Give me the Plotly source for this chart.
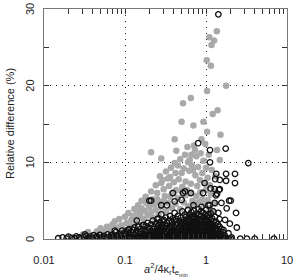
import plotly.graph_objects as go

# ---- data ----
gray_x = [1.36, 1.10, 1.26, 1.17, 1.02, 1.15, 1.77, 1.03, 0.65, 0.52, 1.39, 1.21, 0.50, 0.70, 0.93,
          1.51, 0.41, 0.88, 0.21, 0.43, 0.59, 1.37, 0.73, 0.28, 0.66, 1.48, 0.41,
          0.16, 0.18, 0.19, 0.21, 0.22, 0.24, 0.25, 0.26, 0.27, 0.28, 0.29, 0.30, 0.31, 0.32, 0.34,
          0.35, 0.36, 0.37, 0.38, 0.40, 0.42, 0.43, 0.45, 0.46, 0.48, 0.50, 0.51, 0.53, 0.55, 0.56,
          0.58, 0.60, 0.62, 0.63, 0.65, 0.67, 0.69, 0.71, 0.74, 0.76, 0.78, 0.80, 0.84, 0.86, 0.90,
          0.93, 0.96, 0.98, 1.00, 1.03, 1.05, 1.08, 1.12, 1.18, 1.25, 1.30,
          0.045, 0.05, 0.055, 0.06, 0.065, 0.07, 0.075, 0.08, 0.085, 0.09, 0.095, 0.10, 0.105, 0.11,
          0.115, 0.12, 0.125, 0.13, 0.135, 0.14, 0.145, 0.15, 0.155, 0.16, 0.17, 0.175, 0.18, 0.19,
          0.20, 0.21, 0.22, 0.23, 0.24, 0.25, 0.26, 0.28, 0.30, 0.32, 0.34, 0.36, 0.38, 0.40, 0.42,
          0.45, 0.48, 0.50, 0.53, 0.56, 0.60, 0.64, 0.68, 0.72, 0.76, 0.80, 0.85, 0.90, 0.95, 1.00,
          1.05, 1.10, 1.15, 1.20, 1.30, 0.03, 0.035, 0.04]
gray_y = [27.1, 26.3, 25.9, 25.3, 23.3, 22.6, 20.0, 19.3, 18.4, 17.7, 16.8, 16.3, 15.3, 14.8, 15.3,
          13.6, 13.0, 13.0, 11.3, 11.5, 12.0, 11.6, 11.6, 10.5, 11.0, 10.3, 9.9,
          5.0, 5.5, 4.6, 6.2, 5.2, 7.0, 6.0, 4.8, 8.2, 7.3, 7.7, 6.5, 5.6, 8.8, 7.9,
          6.9, 8.1, 9.3, 5.9, 7.4, 8.6, 6.4, 9.6, 7.8, 10.4, 8.6, 6.8, 9.2, 11.0, 7.5,
          6.4, 10.0, 8.9, 10.3, 7.2, 9.6, 9.0, 12.2, 8.3, 10.8, 6.9, 9.4, 7.7, 11.2, 8.6,
          10.2, 7.3, 12.4, 9.3, 14.0, 8.0, 11.0, 7.0, 9.0, 6.2, 8.2,
          1.0, 1.4, 0.9, 1.6, 1.2, 1.9, 2.3, 1.5, 2.6, 1.8, 1.3, 2.9, 2.1, 3.4,
          1.7, 2.5, 3.0, 3.9, 2.2, 3.6, 4.4, 2.9, 3.3, 4.0, 2.6, 3.7, 4.8, 3.1,
          4.2, 3.5, 2.8, 4.5, 3.8, 5.2, 3.2, 4.1, 5.0, 3.6, 4.7, 5.5, 4.0, 6.0, 4.6,
          5.3, 3.9, 6.2, 4.8, 5.7, 4.3, 6.0, 5.0, 4.4, 5.6, 4.8, 6.1, 5.2, 4.5, 6.4,
          5.1, 4.0, 5.8, 3.5, 4.6, 0.6, 0.9, 0.5]

# black open circles: scattered points
black_x = [1.42, 0.80, 1.12, 1.75, 1.12, 3.33, 1.34, 1.77, 2.28, 1.30, 1.48, 1.77, 2.28, 0.96,
           1.14, 1.45, 1.33, 1.93, 0.52, 0.65, 0.41, 0.50, 0.33, 0.70, 0.88, 1.11, 0.92, 1.28,
           1.48, 1.37, 2.02, 1.55, 1.28, 1.07, 1.80, 2.35, 1.23, 1.42, 1.72, 1.97, 2.40, 1.64,
           1.89, 2.07, 1.72, 1.93, 2.04, 2.65, 3.20, 4.00, 6.90, 0.55, 0.39, 0.20, 0.21, 0.28,
           0.14, 0.127, 0.17, 0.26, 0.30, 0.109, 0.075, 0.049, 0.032,
           0.015, 0.017, 0.019, 0.020, 0.022, 0.024, 0.025, 0.027, 0.029, 0.031, 0.033, 0.035,
           0.037, 0.039, 0.041, 0.043, 0.045, 0.047, 0.049, 0.052, 0.055, 0.058, 0.061, 0.064, 0.067,
           0.068, 0.071, 0.074, 0.077, 0.080, 0.083, 0.086, 0.089, 0.092, 0.095, 0.098, 0.101,
           0.104, 0.107, 0.110, 0.113, 0.116, 0.119, 0.122, 0.125, 0.128, 0.131, 0.134, 0.137,
           0.140, 0.143, 0.146, 0.149, 0.152, 0.155, 0.158, 0.161, 0.164, 0.167, 0.07, 0.085,
           0.10, 0.115, 0.13, 0.145, 0.16]
black_y = [29.3, 12.5, 11.6, 11.8, 10.0, 9.9, 8.5, 8.5, 8.5, 7.8, 7.7, 7.6, 7.3, 7.3,
           6.6, 6.4, 5.7, 5.0, 6.0, 6.0, 4.9, 5.1, 4.4, 4.4, 4.2, 4.4, 6.0, 6.5,
           6.5, 5.9, 5.0, 4.7, 4.7, 4.4, 4.0, 3.4, 3.6, 3.4, 2.5, 2.0, 1.5, 1.2,
           0.75, 0.2, 0.05, 0.05, 0.05, 0.05, 0.05, 0.05, 0.05, 6.2, 6.0, 5.0, 5.0, 4.4,
           2.4, 1.2, 1.8, 2.7, 2.3, 1.2, 1.1, 0.5, 0.6,
           0.1, 0.2, 0.05, 0.3, 0.15, 0.1, 0.35, 0.2, 0.1, 0.25, 0.4, 0.15,
           0.3, 0.05, 0.5, 0.2, 0.35, 0.1, 0.55, 0.25, 0.4, 0.15, 0.6, 0.3, 0.45,
           0.2, 0.6, 0.1, 0.9, 0.35, 0.05, 0.7, 0.45, 1.1, 0.15, 0.8, 0.4,
           1.0, 0.1, 0.65, 1.3, 0.3, 0.9, 0.05, 1.2, 0.5, 1.5, 0.2, 0.85,
           1.1, 0.4, 1.6, 0.7, 0.15, 1.3, 0.95, 0.3, 1.8, 0.55, 0.0, 0.25,
           0.0, 0.1, 0.0, 0.2, 0.05]

# black open circles: dense core, listed as (x, [y values at that x])
black_core = [
    (0.17, [0.1, 0.6, 1.2]), (0.18, [0.3, 0.9, 1.7]), (0.19, [0.0, 0.5, 1.1, 2.1]),
    (0.20, [0.2, 0.8, 1.4]), (0.21, [0.4, 1.0, 1.9]), (0.22, [0.1, 0.6, 1.3, 2.4]),
    (0.23, [0.3, 0.9, 1.6]), (0.24, [0.0, 0.5, 1.1, 2.0]), (0.25, [0.2, 0.8, 1.4, 2.6]),
    (0.26, [0.4, 1.0, 1.8]), (0.27, [0.1, 0.6, 1.2, 2.2]), (0.28, [0.3, 0.9, 1.5, 3.2]),
    (0.29, [0.0, 0.5, 1.1, 1.9]), (0.30, [0.2, 0.8, 1.4, 2.5]), (0.32, [0.1, 0.6, 1.0, 1.7, 2.8]),
    (0.33, [0.3, 0.9, 1.3, 2.1]), (0.35, [0.0, 0.5, 1.1, 1.6, 2.4]), (0.36, [0.2, 0.8, 1.4, 3.0]),
    (0.38, [0.4, 1.0, 1.7, 2.2]), (0.39, [0.1, 0.6, 1.2, 1.9, 2.7]), (0.41, [0.3, 0.9, 1.5, 2.4, 3.4]),
    (0.43, [0.0, 0.5, 1.1, 1.8, 2.6]), (0.45, [0.2, 0.8, 1.3, 2.0, 3.0]), (0.47, [0.4, 1.0, 1.6, 2.3]),
    (0.49, [0.1, 0.6, 1.2, 1.9, 2.8]), (0.51, [0.3, 0.9, 1.5, 2.2, 3.6]), (0.53, [0.0, 0.5, 1.1, 1.7, 2.5]),
    (0.55, [0.2, 0.8, 1.4, 2.0, 3.2]), (0.57, [0.4, 1.0, 1.6, 2.4, 2.9]), (0.60, [0.1, 0.6, 1.2, 1.8, 2.6, 3.8]),
    (0.62, [0.3, 0.9, 1.5, 2.2, 3.1]), (0.64, [0.0, 0.5, 1.1, 1.7, 2.5]), (0.66, [0.2, 0.8, 1.4, 2.0, 2.8, 3.5]),
    (0.69, [0.4, 1.0, 1.6, 2.3, 3.0]), (0.71, [0.1, 0.6, 1.2, 1.9, 2.6, 3.7]), (0.73, [0.3, 0.9, 1.5, 2.1, 2.9]),
    (0.76, [0.0, 0.5, 1.1, 1.8, 2.4, 3.3]), (0.78, [0.2, 0.8, 1.4, 2.0, 2.7]), (0.81, [0.4, 1.0, 1.6, 2.3, 3.1, 3.9]),
    (0.84, [0.1, 0.6, 1.2, 1.9, 2.6]), (0.87, [0.3, 0.9, 1.5, 2.2, 3.0, 3.6]), (0.90, [0.0, 0.5, 1.1, 1.7, 2.4]),
    (0.93, [0.2, 0.8, 1.4, 2.0, 2.8, 3.4]), (0.96, [0.4, 1.0, 1.6, 2.3, 3.1]), (1.00, [0.1, 0.6, 1.2, 1.9, 2.6, 3.8]),
    (1.03, [0.3, 0.9, 1.5, 2.2, 3.0]), (1.07, [0.0, 0.5, 1.1, 1.7, 2.4, 3.2]), (1.11, [0.2, 0.8, 1.4, 2.0, 2.8]),
    (1.15, [0.4, 1.0, 1.6, 2.5, 3.3]), (1.19, [0.1, 0.6, 1.2, 1.9, 2.7]), (1.24, [0.3, 0.9, 1.5, 2.3]),
    (1.29, [0.0, 0.5, 1.1, 1.8, 2.9]), (1.34, [0.2, 0.8, 1.4, 2.2]), (1.40, [0.1, 0.6, 1.2, 1.9]),
    (1.47, [0.3, 0.9, 1.6, 2.6]), (1.55, [0.0, 0.6, 1.3]), (1.62, [0.2, 0.9]), (1.70, [0.1, 0.5]),
    (0.175, [0.35]), (0.205, [0.15]), (0.235, [0.05]), (0.265, [0.3]), (0.31, [0.15]),
    (0.34, [0.4]), (0.37, [0.05]), (0.42, [0.45]), (0.46, [0.1]), (0.50, [0.35]), (0.56, [0.05]),
    (0.58, [0.5]), (0.67, [0.1]), (0.74, [0.45]), (0.80, [0.05]), (0.85, [0.4]), (0.95, [0.1]),
    (1.05, [0.45]), (1.13, [0.05]), (1.21, [0.4]), (1.32, [0.1]), (1.44, [0.4]),
]

x_tickvals = [0.01, 0.1, 1, 10]
x_ticktext = ["0.01", "0.1", "1", "10"]
y_tickvals = [0, 10, 20, 30]
y_ticktext = ["0", "10", "20", "30"]

core_x = [cx for cx, ys in black_core for _ in ys]
core_y = [y for _, ys in black_core for y in ys]

FONT = "Liberation Sans, Arial, sans-serif"

fig = go.Figure()
fig.add_trace(go.Scatter(
    x=gray_x, y=gray_y, mode="markers",
    marker=dict(symbol="circle", size=6.5, color="#a9a9a9", line=dict(width=0)),
    showlegend=False, hoverinfo="skip"))
fig.add_trace(go.Scatter(
    x=black_x + core_x, y=black_y + core_y, mode="markers",
    marker=dict(symbol="circle-open", size=5.5, color="#111111", line=dict(width=1.3, color="#111111")),
    showlegend=False, hoverinfo="skip"))

fig.update_layout(
    width=299, height=277,
    margin=dict(l=44, r=12, t=9, b=38, autoexpand=False),
    paper_bgcolor="white", plot_bgcolor="white",
    font=dict(family=FONT, size=11, color="#222"),
)
fig.update_xaxes(
    type="log", range=[-2, 1], automargin=False,
    tickvals=x_tickvals, ticktext=x_ticktext,
    ticks="inside", ticklen=5, tickcolor="#333", tickwidth=1,
    minor=dict(ticks="inside", ticklen=5, tickcolor="#333", showgrid=False,
               tickvals=[0.02, 0.03, 0.04, 0.05, 0.06, 0.07, 0.08, 0.09,
                         0.2, 0.3, 0.4, 0.5, 0.6, 0.7, 0.8, 0.9,
                         2, 3, 4, 5, 6, 7, 8, 9]),
    showline=True, linecolor="#777", linewidth=1, mirror="ticks",
    showgrid=True, gridcolor="#222", gridwidth=1, griddash="1px,5px",
    zeroline=False, ticklabelstandoff=11,
)
fig.update_yaxes(
    range=[0, 30], tickvals=y_tickvals, showticklabels=False, automargin=False,
    ticks="inside", ticklen=5, tickcolor="#333", tickwidth=1,
    minor=dict(ticks="inside", ticklen=5, tickcolor="#333", showgrid=False, tickvals=[5, 15, 25]),
    showline=True, linecolor="#777", linewidth=1, mirror="ticks",
    showgrid=True, gridcolor="#222", gridwidth=1, griddash="1px,5px",
    zeroline=False,
)

# rotated y tick labels, y title and x title (placed as in the reference)
for v, t in zip(y_tickvals, y_ticktext):
    fig.add_annotation(text=t, xref="paper", x=0, xshift=-14, yref="y", y=v,
                       xanchor="center", yanchor="middle", textangle=-90,
                       showarrow=False, font=dict(size=11, color="#222"))
fig.add_annotation(text="Relative difference (%)", xref="paper", x=0, xshift=-34,
                   yref="paper", y=0.5, xanchor="center", yanchor="middle",
                   textangle=-90, showarrow=False, font=dict(size=11, color="#222"))
fig.add_annotation(text="<i>a</i><sup>2</sup>/4κ<sub>r</sub>t<sub>e<sub>min</sub></sub>",
                   xref="paper", x=0.5, yref="paper", y=0, yshift=-30,
                   xanchor="center", yanchor="middle", showarrow=False,
                   font=dict(size=11, color="#222"))

fig.write_html("out.html")
